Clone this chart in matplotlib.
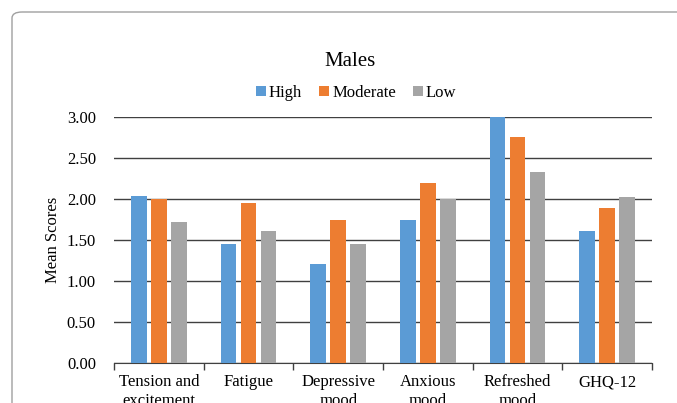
import numpy as np
import matplotlib.pyplot as plt
from matplotlib.patches import FancyBboxPatch

categories = ['Tension and\nexcitement', 'Fatigue', 'Depressive\nmood',
              'Anxious\nmood', 'Refreshed\nmood', 'GHQ-12']
high = [2.04, 1.45, 1.21, 1.74, 3.00, 1.61]
moderate = [2.00, 1.95, 1.74, 2.19, 2.76, 1.89]
low = [1.72, 1.61, 1.45, 2.00, 2.33, 2.03]
y_ticks = [0.0, 0.5, 1.0, 1.5, 2.0, 2.5, 3.0]

plt.rcParams['font.family'] = ['Liberation Serif', 'DejaVu Serif']

fig = plt.figure(figsize=(6.77, 4.03), dpi=100)
# rounded border of the chart area
fig.patches.append(FancyBboxPatch((12/677, -0.2), 1.2, (403-12)/403 + 0.2,
                                  boxstyle='round,pad=0,rounding_size=0.015',
                                  transform=fig.transFigure, fill=False,
                                  edgecolor='#a0a0a0', linewidth=1.0))

ax = fig.add_axes([114/677, 1 - 363/403, (652-114)/677, (363-117)/403])

x = np.arange(len(categories))
w = 0.175
step = 0.223
ax.bar(x - step, high, w, color='#5B9BD5', label='High', zorder=3)
ax.bar(x, moderate, w, color='#ED7D31', label='Moderate', zorder=3)
ax.bar(x + step, low, w, color='#A5A5A5', label='Low', zorder=3)

ax.set_xlim(-0.5, len(categories) - 0.5)
ax.set_ylim(0, 3.0)
ax.set_yticks(y_ticks)
ax.set_yticklabels(['%.2f' % v for v in y_ticks], fontsize=12)
ax.yaxis.grid(True, color='#404040', linewidth=1.0, zorder=0)
ax.tick_params(axis='y', length=0, pad=13)

ax.set_xticks(x)
ax.set_xticklabels(categories, fontsize=12, linespacing=1.2)
ax.set_xticks(np.arange(len(categories) + 1) - 0.5, minor=True)
ax.tick_params(axis='x', which='major', length=0, pad=8)
ax.tick_params(axis='x', which='minor', length=5, width=1, color='#404040', direction='out')

for s in ['top', 'right', 'left']:
    ax.spines[s].set_visible(False)
ax.spines['bottom'].set_color('#404040')

ax.set_ylabel('Mean Scores', fontsize=12, labelpad=4)

fig.text(350/677, 1 - 62/403, 'Males', ha='center', va='center', fontsize=15)
fig.legend(loc='center', bbox_to_anchor=(356/677, 1 - 93/403), ncol=3, frameon=False,
           fontsize=12, handlelength=0.6, handleheight=0.6, handletextpad=0.2,
           columnspacing=1.0)

fig.savefig('out.png', dpi=100)
